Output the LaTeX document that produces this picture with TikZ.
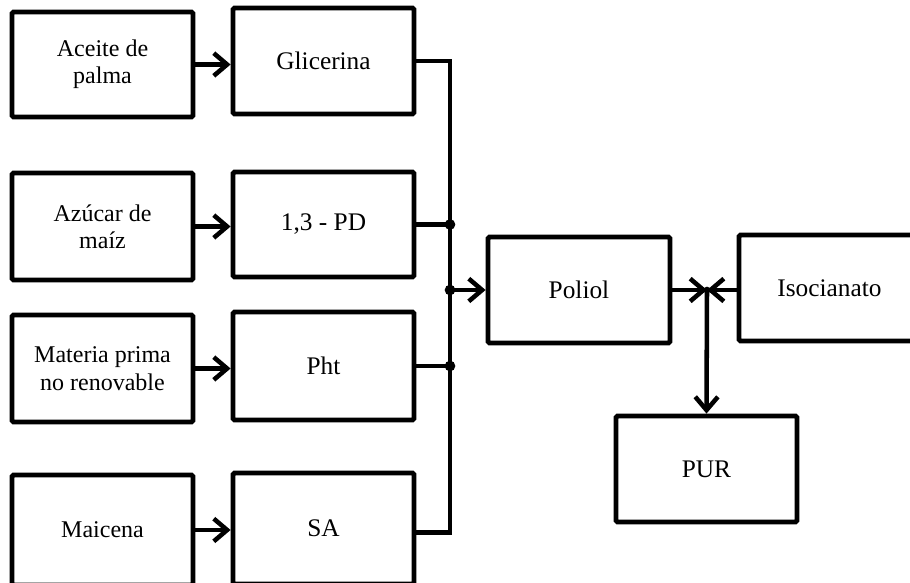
\documentclass[tikz,border=0pt]{standalone}
\usepackage{fontspec}
\setmainfont{Liberation Serif}
\usetikzlibrary{arrows.meta,calc}
\begin{document}
\begin{tikzpicture}[x=0.75pt,y=-0.75pt,
  box/.style={draw,line width=3.6pt,rounded corners=1.2pt,minimum width=135.75pt,
    inner sep=0pt,align=center,font=\fontsize{19}{22}\selectfont},
  lbox/.style={box,font=\fontsize{18}{20.5}\selectfont},
  conn/.style={line width=3.4pt,line join=miter},
  arr/.style={conn,-{Straight Barb[length=10pt,width=17pt]}},
  dot/.style={circle,fill,inner sep=0pt,minimum size=8pt}]
\useasboundingbox (0,0) rectangle (910,582);
\clip (0,0) rectangle (910,582);
% left column
\node[lbox,minimum height=78.75pt] (aceite) at (102.5,64.5) {Aceite de\\palma};
\node[lbox,minimum height=80.25pt] (azucar) at (102.5,226.5) {Azúcar de\\maíz};
\node[lbox,minimum height=80.25pt] (materia) at (102.5,368.5) {Materia prima\\no renovable};
\node[lbox,minimum height=82.5pt] (maicena) at (102.5,530) {Maicena};
% middle column
\node[box,minimum height=79.5pt] (glic) at (323.5,61) {Glicerina};
\node[box,minimum height=78.75pt] (pd) at (323.5,224.5) {1,3 - PD};
\node[box,minimum height=81pt] (pht) at (323.5,366) {Pht};
\node[box,minimum height=83.25pt] (sa) at (323.5,528.5) {SA};
% right part
\node[box,minimum height=79.5pt,minimum width=136.5pt] (poliol) at (579,290) {Poliol};
\node[box,minimum height=79.5pt] (iso) at (829.5,288) {Isocianato};
\node[box,minimum height=79.5pt] (pur) at (706.5,469) {PUR};
% coordinates
\coordinate (bus) at (450,290);
\coordinate (J) at (707,290);
% arrows left -> middle
\draw[arr] (aceite.east) -- (aceite.east -| glic.west);
\draw[arr] (azucar.east) -- (azucar.east -| pd.west);
\draw[arr] (materia.east) -- (materia.east -| pht.west);
\draw[arr] (maicena.east) -- (maicena.east -| sa.west);
% bus
\draw[conn] (glic.east) -- (glic.east -| bus) -- ($(sa.east -| bus)+(0,4)$) -- ($(sa.east)+(0,4)$);
\draw[conn] (pd.east) -- (pd.east -| bus) node[dot] (d1) {};
\draw[conn] (pht.east) -- (pht.east -| bus) node[dot] (d2) {};
\node[dot] (d0) at (bus) {};
\draw[arr] (bus) -- (poliol.west);
% right connections
\draw[arr] (poliol.east) -- (J);
\draw[arr] (iso.west |- J) -- (J);
\draw[arr] (J) -- (pur.north);
\node[dot,minimum size=5pt] (dj) at (J) {};
\end{tikzpicture}
\end{document}
